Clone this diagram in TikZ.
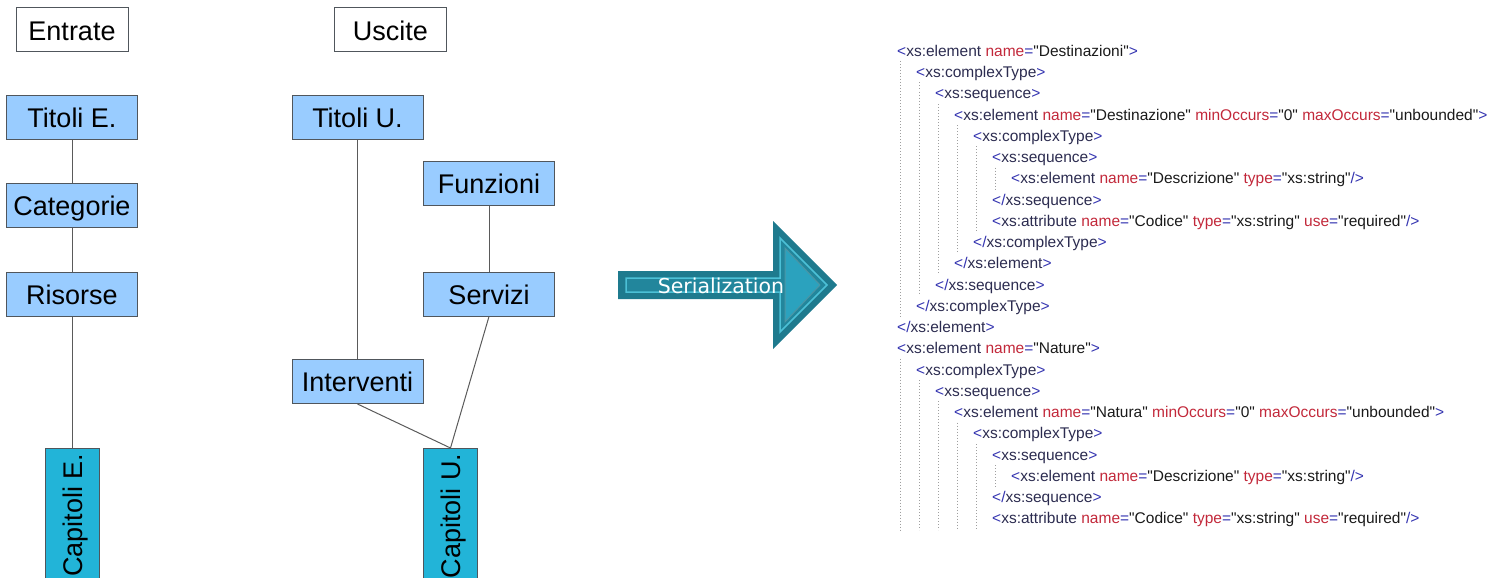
\documentclass[tikz,border=0pt]{standalone}
\usepackage{fontspec}
\setmainfont{Liberation Sans}
\newfontfamily\xmlfont{Liberation Sans}
\newfontfamily\arrowfont{DejaVu Sans}

\newlength{\du}
\setlength{\du}{1pt}

\definecolor{boxline}{HTML}{50565C}
\definecolor{levelfill}{HTML}{99CCFF}
\definecolor{chapfill}{HTML}{22B4D8}
\definecolor{linkline}{HTML}{5A5A5A}
\definecolor{arrowdark}{HTML}{1E7A8E}
\definecolor{arrowmid}{HTML}{2BA2BE}
\definecolor{arrowlight}{HTML}{4CC0D6}
\definecolor{xmlbr}{HTML}{3434B0}
\definecolor{xmlel}{HTML}{2C2C50}
\definecolor{xmlat}{HTML}{C2283A}
\definecolor{xmlvl}{HTML}{1A1A1A}

\newcommand{\xopen}[1]{\textcolor{xmlbr}{<}\textcolor{xmlel}{#1}}
\newcommand{\xclose}[1]{\textcolor{xmlbr}{</}\textcolor{xmlel}{#1}\textcolor{xmlbr}{>}}
\newcommand{\xattr}[2]{\space\textcolor{xmlat}{#1}\textcolor{xmlbr}{=}\textcolor{xmlvl}{"#2"}}
\newcommand{\xgt}{\textcolor{xmlbr}{>}}
\newcommand{\xslash}{\textcolor{xmlbr}{/>}}

\tikzset{
  headbox/.style={draw=boxline, fill=white, line width=1\du, inner sep=0pt,
    minimum width=112\du, minimum height=44\du, text height=20.4\du, text depth=0pt,
    font=\fontsize{27}{27}\selectfont},
  levelbox/.style={headbox, fill=levelfill, minimum width=131\du},
  chapterbox/.style={draw=boxline, fill=chapfill, line width=1\du, rotate=90, anchor=east,
    inner xsep=5\du, inner ysep=0pt, minimum height=54\du, text height=20.4\du, text depth=0pt,
    font=\fontsize{27}{27}\selectfont},
  link/.style={draw=linkline, line width=1\du},
  guide/.style={draw=gray!75, line width=1\du, dotted},
  xmlline/.style={anchor=base west, inner sep=0pt, font=\xmlfont\fontsize{15.5}{15.5}\selectfont}
}

\begin{document}
\begin{tikzpicture}
\pgftransformxscale{1.000000}
\pgftransformyscale{-1.000000}
\useasboundingbox (0\du,0\du) rectangle (1497\du,578\du);
% headings
\node[headbox] (entrate) at (72\du,30\du){Entrate};
\node[headbox] (uscite) at (390.5\du,30\du){Uscite};
% entrate tree
\node[levelbox] (titoliE) at (72\du,117.5\du){Titoli E.};
\node[levelbox] (categorie) at (72\du,205.5\du){Categorie};
\node[levelbox] (risorse) at (72\du,294\du){Risorse};
\node[chapterbox] (capitoliE) at (72\du,448\du){Capitoli E.};
\draw[link] (titoliE) -- (categorie);
\draw[link] (categorie) -- (risorse);
\draw[link] (risorse.south) -- (capitoliE.east);
% uscite tree
\node[levelbox] (titoliU) at (357.5\du,117.5\du){Titoli U.};
\node[levelbox] (funzioni) at (489\du,183.5\du){Funzioni};
\node[levelbox] (servizi) at (489\du,294\du){Servizi};
\node[levelbox] (interventi) at (357.5\du,381.5\du){Interventi};
\node[chapterbox] (capitoliU) at (450.5\du,448\du){Capitoli U.};
\draw[link] (titoliU) -- (interventi);
\draw[link] (funzioni) -- (servizi);
\draw[link] (servizi.south) -- (capitoliU.east);
\draw[link] (interventi.south) -- (capitoliU.east);
% serialization arrow
\fill[arrowdark] (618\du,271\du)--(773\du,271\du)--(773\du,221\du)--(837\du,285\du)--(773\du,349\du)--(773\du,299\du)--(618\du,299\du)--cycle;
\filldraw[fill=arrowdark!70!arrowmid, draw=arrowlight, line width=1.5\du] (626\du,278\du)--(780\du,278\du)--(780\du,238\du)--(827\du,285\du)--(780\du,332\du)--(780\du,292\du)--(626\du,292\du)--cycle;
\filldraw[fill=arrowmid, draw=arrowdark!80, line width=1\du] (785\du,248\du)--(820\du,285\du)--(785\du,322\du)--cycle;
\node[text=white, inner sep=0pt, font=\arrowfont\fontsize{20.5}{20.5}\selectfont] (serial) at (721\du,286\du){Serialization};
% xml schema
\foreach \gx/\ya/\yb in {900/61/316.5, 919/82.5/295, 938/104/274, 957/125/252.7, 976/146/231.5, 995/167.5/189,
  900/358.7/530, 919/380/530, 938/401/530, 957/422.5/530, 976/444/530, 995/465/486.5}
  \draw[guide] (\gx\du,\ya\du) -- (\gx\du,\yb\du);
\node[xmlline] (xml1) at (897\du,56.2\du){\xopen{xs:element}\xattr{name}{Destinazioni}\xgt};
\node[xmlline] (xml2) at (916\du,77.5\du){\xopen{xs:complexType}\xgt};
\node[xmlline] (xml3) at (935\du,98.7\du){\xopen{xs:sequence}\xgt};
\node[xmlline] (xml4) at (954\du,120\du){\xopen{xs:element}\xattr{name}{Destinazione}\xattr{minOccurs}{0}\xattr{maxOccurs}{unbounded}\xgt};
\node[xmlline] (xml5) at (973\du,141.2\du){\xopen{xs:complexType}\xgt};
\node[xmlline] (xml6) at (992\du,162.5\du){\xopen{xs:sequence}\xgt};
\node[xmlline] (xml7) at (1011\du,183.7\du){\xopen{xs:element}\xattr{name}{Descrizione}\xattr{type}{xs:string}\xslash};
\node[xmlline] (xml8) at (992\du,205\du){\xclose{xs:sequence}};
\node[xmlline] (xml9) at (992\du,226.2\du){\xopen{xs:attribute}\xattr{name}{Codice}\xattr{type}{xs:string}\xattr{use}{required}\xslash};
\node[xmlline] (xml10) at (973\du,247.5\du){\xclose{xs:complexType}};
\node[xmlline] (xml11) at (954\du,268.7\du){\xclose{xs:element}};
\node[xmlline] (xml12) at (935\du,290\du){\xclose{xs:sequence}};
\node[xmlline] (xml13) at (916\du,311.2\du){\xclose{xs:complexType}};
\node[xmlline] (xml14) at (897\du,332.5\du){\xclose{xs:element}};
\node[xmlline] (xml15) at (897\du,353.7\du){\xopen{xs:element}\xattr{name}{Nature}\xgt};
\node[xmlline] (xml16) at (916\du,375\du){\xopen{xs:complexType}\xgt};
\node[xmlline] (xml17) at (935\du,396.2\du){\xopen{xs:sequence}\xgt};
\node[xmlline] (xml18) at (954\du,417.5\du){\xopen{xs:element}\xattr{name}{Natura}\xattr{minOccurs}{0}\xattr{maxOccurs}{unbounded}\xgt};
\node[xmlline] (xml19) at (973\du,438.7\du){\xopen{xs:complexType}\xgt};
\node[xmlline] (xml20) at (992\du,460\du){\xopen{xs:sequence}\xgt};
\node[xmlline] (xml21) at (1011\du,481.2\du){\xopen{xs:element}\xattr{name}{Descrizione}\xattr{type}{xs:string}\xslash};
\node[xmlline] (xml22) at (992\du,502.5\du){\xclose{xs:sequence}};
\node[xmlline] (xml23) at (992\du,523.7\du){\xopen{xs:attribute}\xattr{name}{Codice}\xattr{type}{xs:string}\xattr{use}{required}\xslash};
\end{tikzpicture}
\end{document}
